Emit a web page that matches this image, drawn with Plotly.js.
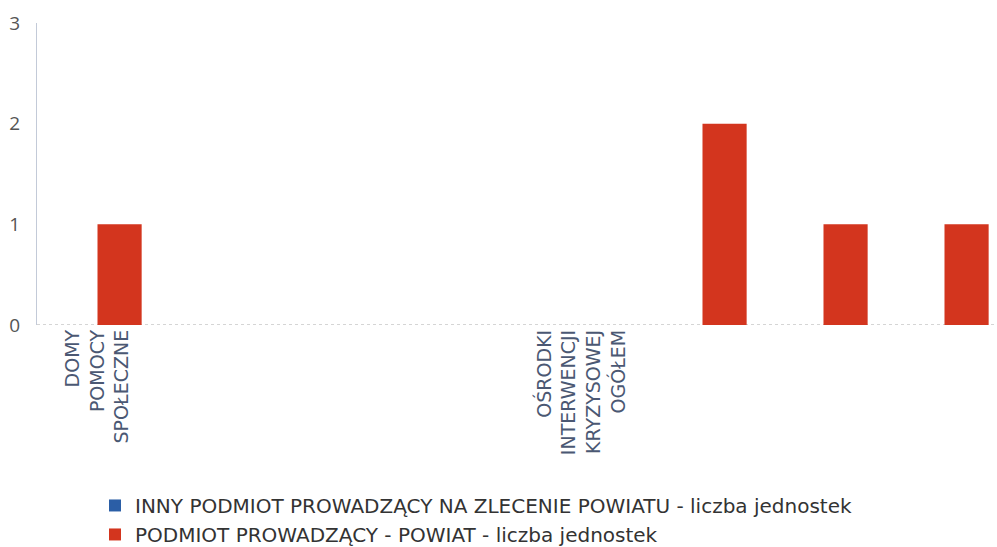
<!DOCTYPE html>
<html>
<head>
<meta charset="utf-8">
<script src="https://cdn.plot.ly/plotly-3.0.1.min.js"></script>
<style>html,body{margin:0;padding:0;background:#fff;}#chart{width:997px;height:547px;}</style>
</head>
<body>
<div id="chart"></div>
<script>
const categories = ["DOMY POMOCY SPOŁECZNEJ", "kat. 2", "kat. 3", "kat. 4", "OŚRODKI INTERWENCJI KRYZYSOWEJ OGÓŁEM", "kat. 6", "kat. 7", "kat. 8"];
const shownTicks = ["DOMY POMOCY SPOŁECZNEJ", "OŚRODKI INTERWENCJI KRYZYSOWEJ OGÓŁEM"];
const shownTickText = ["DOMY<br>POMOCY<br>SPOŁECZNE", "OŚRODKI<br>INTERWENCJI<br>KRYZYSOWEJ<br>OGÓŁEM"];
const seriesInnyName = "INNY PODMIOT PROWADZĄCY NA ZLECENIE POWIATU - liczba jednostek";
const seriesInny = [0, 0, 0, 0, 0, 0, 0, 0];
const seriesPowiatName = "PODMIOT PROWADZĄCY - POWIAT - liczba jednostek";
const seriesPowiat = [1, 0, 0, 0, 0, 2, 1, 1];
const yTicks = [0, 1, 2, 3];

const traces = [
  {type: 'bar', x: categories, y: seriesInny, name: seriesInnyName, marker: {color: '#2b5ea6', line: {width: 0}}},
  {type: 'bar', x: categories, y: seriesPowiat, name: seriesPowiatName, marker: {color: '#d3351e', line: {width: 0}}}
];

const layout = {
  width: 997, height: 547,
  margin: {l: 37, r: 0, t: 23, b: 222, autoexpand: false},
  paper_bgcolor: '#fff', plot_bgcolor: '#fff',
  barmode: 'group', bargap: 0.27, bargroupgap: 0,
  font: {family: 'DejaVu Sans, sans-serif', color: '#444'},
  xaxis: {
    type: 'category', range: [-0.5, 7.434], automargin: false,
    tickmode: 'array', tickvals: shownTicks, ticktext: shownTickText,
    tickangle: -90, ticks: '', showgrid: false, zeroline: false, showline: false,
    tickfont: {size: 19, color: '#4b5873', family: 'DejaVu Sans, sans-serif'},
    fixedrange: true
  },
  yaxis: {
    range: [0, 3], tickmode: 'array', tickvals: yTicks, automargin: false,
    showgrid: false, zeroline: false, showline: true, linecolor: '#c3cad8', linewidth: 1,
    ticks: '', ticklabelstandoff: 12,
    tickfont: {size: 19, color: '#555', family: 'Open Sans, sans-serif'}
  },
  shapes: [{type: 'line', xref: 'paper', yref: 'y', x0: 0, x1: 1, y0: 0, y1: 0,
            line: {color: '#aaaaaa', width: 1, dash: 'dot'}, layer: 'below'}],
  showlegend: true,
  legend: {orientation: 'v', x: 0.0604, xanchor: 'left', y: -0.533, yanchor: 'top',
           font: {size: 20, color: '#333', family: 'DejaVu Sans, sans-serif'},
           itemwidth: 30, tracegroupgap: 0, bgcolor: 'rgba(0,0,0,0)'}
};

Plotly.newPlot('chart', traces, layout, {displayModeBar: false, staticPlot: true});
</script>
</body>
</html>
